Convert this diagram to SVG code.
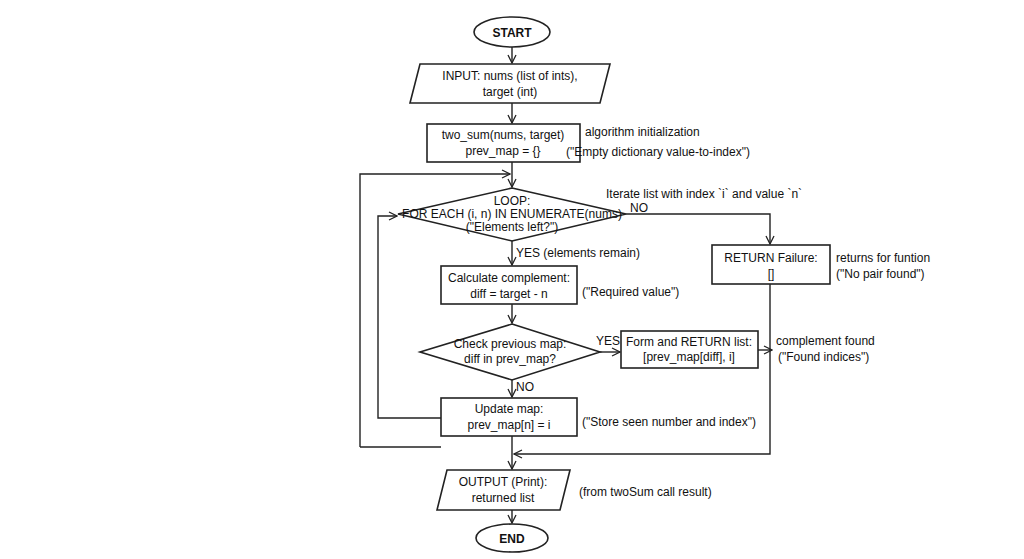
<svg xmlns="http://www.w3.org/2000/svg" width="1024" height="559" viewBox="0 0 1024 559">
<style>
.s{fill:#fff;stroke:#222;stroke-width:1.6}
.l{fill:none;stroke:#222;stroke-width:1.4}
text{font-family:"Liberation Sans",sans-serif;font-size:12px;fill:#111}
.c{text-anchor:middle}
.b{font-weight:bold}
</style>
<defs><marker id="a" markerWidth="10" markerHeight="10" refX="9" refY="5" orient="auto" markerUnits="userSpaceOnUse"><path d="M1,1 L9,5 L1,9" fill="none" stroke="#222" stroke-width="1.3"/></marker></defs>
<rect width="1024" height="559" fill="#fff"/>
<g id="connectors">
<path class="l" d="M512,47 V63" marker-end="url(#a)"/>
<path class="l" d="M512,103 V123" marker-end="url(#a)"/>
<path class="l" d="M512,162 V187" marker-end="url(#a)"/>
<path class="l" d="M360,447 V174 H510" marker-end="url(#a)"/>
<path class="l" d="M441,418 H378 V216 H397" marker-end="url(#a)"/>
<path class="l" d="M626,214 H770 V244" marker-end="url(#a)"/>
<path class="l" d="M770,284 V454 H514" marker-end="url(#a)"/>
<path class="l" d="M512,241 V265" marker-end="url(#a)"/>
<path class="l" d="M512,304 V323" marker-end="url(#a)"/>
<path class="l" d="M600,352 H620" marker-end="url(#a)"/>
<path class="l" d="M758,350 H772" marker-end="url(#a)"/>
<path class="l" d="M512,380 V397" marker-end="url(#a)"/>
<path class="l" d="M512,436 V469" marker-end="url(#a)"/>
<path class="l" d="M441,447 H360"/>
<path class="l" d="M512,510 V523" marker-end="url(#a)"/>
</g>
<g id="start"><ellipse class="s" cx="512" cy="32" rx="38" ry="15"/><text class="c b" x="512" y="37">START</text></g>
<g id="input"><path class="s" d="M420,64 H610 L600,103 H410 Z"/><text class="c" x="510" y="80">INPUT: nums (list of ints),</text><text class="c" x="510" y="96">target (int)</text></g>
<g id="init"><rect class="s" x="427" y="124" width="153" height="38"/><text class="c" x="503" y="139">two_sum(nums, target)</text><text class="c" x="503" y="155">prev_map = {}</text>
<text x="585" y="136">algorithm initialization</text><text x="566" y="156">("Empty dictionary value-to-index")</text></g>
<g id="loop"><path class="s" d="M512,188 L626,214 L512,241 L398,214 Z"/><text class="c" x="512" y="205">LOOP:</text><text class="c" x="512" y="218" font-size="10">FOR EACH (i, n) IN ENUMERATE(nums)</text><text class="c" x="512" y="231" font-size="10">("Elements left?")</text>
<text x="606" y="198">Iterate list with index `i` and value `n`</text><text x="630" y="212" font-size="10">NO</text><text x="516" y="257">YES (elements remain)</text></g>
<g id="fail"><rect class="s" x="712" y="245" width="118" height="39"/><text class="c" x="771" y="262">RETURN Failure:</text><text class="c" x="771" y="278">[]</text>
<text x="836" y="262">returns for funtion</text><text x="836" y="278">("No pair found")</text></g>
<g id="calc"><rect class="s" x="441" y="266" width="136" height="38"/><text class="c" x="509" y="282">Calculate complement:</text><text class="c" x="509" y="298">diff = target - n</text><text x="582" y="296">("Required value")</text></g>
<g id="check"><path class="s" d="M512,324 L600,352 L512,380 L420,352 Z"/><text class="c" x="510" y="348">Check previous map:</text><text class="c" x="510" y="363">diff in prev_map?</text><text x="596" y="345" font-size="10">YES</text><text x="516" y="391" font-size="10">NO</text></g>
<g id="found"><rect class="s" x="621" y="331" width="137" height="37"/><text class="c" x="689" y="346">Form and RETURN list:</text><text class="c" x="689" y="361">[prev_map[diff], i]</text>
<text x="776" y="345">complement found</text><text x="778" y="361">("Found indices")</text></g>
<g id="update"><rect class="s" x="441" y="398" width="136" height="38"/><text class="c" x="509" y="413">Update map:</text><text class="c" x="509" y="429">prev_map[n] = i</text><text x="582" y="426">("Store seen number and index")</text></g>
<g id="output"><path class="s" d="M447,470 H570 L560,510 H437 Z"/><text class="c" x="503" y="486">OUTPUT (Print):</text><text class="c" x="503" y="502">returned list</text><text x="579" y="496">(from twoSum call result)</text></g>
<g id="end"><ellipse class="s" cx="512" cy="538" rx="36" ry="14"/><text class="c b" x="512" y="543">END</text></g>
</svg>
